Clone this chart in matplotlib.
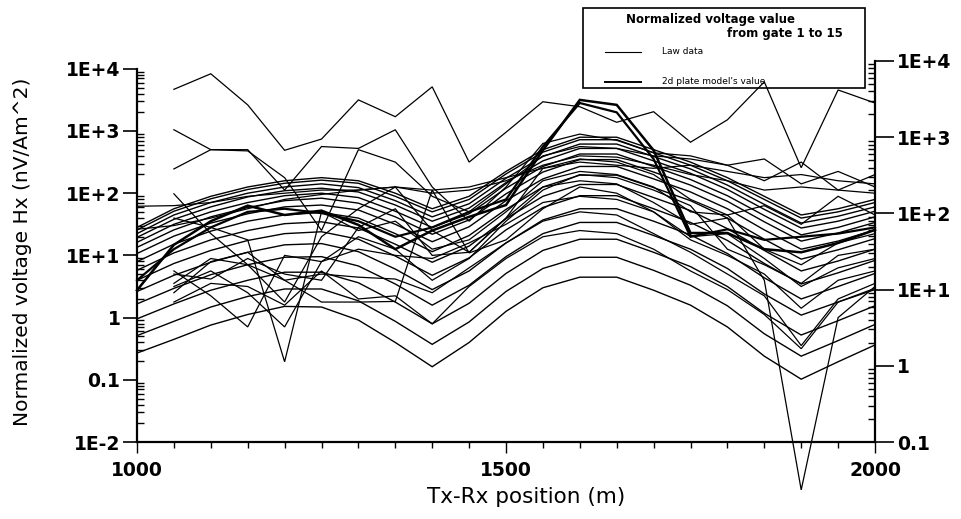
import numpy as np
import matplotlib
matplotlib.use("Agg")
import matplotlib.pyplot as plt
from matplotlib.lines import Line2D
from matplotlib.patches import Rectangle
from matplotlib.ticker import FixedLocator, FixedFormatter, LogLocator, NullFormatter

nan = float("nan")

# Tx-Rx positions (m)
positions = [1000, 1050, 1100, 1150, 1200, 1250, 1300, 1350, 1400, 1450, 1500,
             1550, 1600, 1650, 1700, 1750, 1800, 1850, 1900, 1950, 2000]

# 2d plate model values, log10(nV/Am^2), gate 1 (top) .. gate 15 (bottom)
model_g01 = [1.45, 1.75, 1.95, 2.10, 2.20, 2.25, 2.20, 2.00, 1.75, 1.95, 2.35, 2.70, 2.90, 2.90, 2.70, 2.50, 2.25, 1.95, 1.65, 1.75, 1.90]
model_g02 = [1.41, 1.71, 1.91, 2.06, 2.16, 2.21, 2.16, 1.95, 1.70, 1.90, 2.31, 2.66, 2.86, 2.86, 2.65, 2.45, 2.20, 1.90, 1.60, 1.70, 1.85]
model_g03 = [1.35, 1.65, 1.85, 2.00, 2.10, 2.15, 2.09, 1.88, 1.62, 1.83, 2.24, 2.59, 2.79, 2.79, 2.59, 2.39, 2.13, 1.82, 1.52, 1.63, 1.78]
model_g04 = [1.29, 1.58, 1.78, 1.94, 2.04, 2.08, 2.02, 1.81, 1.55, 1.76, 2.17, 2.52, 2.72, 2.72, 2.52, 2.32, 2.06, 1.74, 1.44, 1.55, 1.71]
model_g05 = [1.21, 1.50, 1.70, 1.85, 1.96, 2.00, 1.93, 1.71, 1.45, 1.67, 2.08, 2.43, 2.63, 2.63, 2.43, 2.22, 1.96, 1.64, 1.33, 1.45, 1.62]
model_g06 = [1.13, 1.41, 1.62, 1.77, 1.88, 1.92, 1.84, 1.62, 1.34, 1.57, 1.99, 2.34, 2.54, 2.54, 2.34, 2.13, 1.87, 1.54, 1.23, 1.36, 1.53]
model_g07 = [1.03, 1.31, 1.52, 1.67, 1.78, 1.81, 1.73, 1.50, 1.22, 1.46, 1.88, 2.23, 2.43, 2.43, 2.23, 2.02, 1.75, 1.41, 1.10, 1.23, 1.41]
model_g08 = [0.90, 1.18, 1.39, 1.55, 1.65, 1.69, 1.60, 1.35, 1.06, 1.32, 1.74, 2.10, 2.29, 2.29, 2.09, 1.88, 1.60, 1.26, 0.94, 1.09, 1.27]
model_g09 = [0.76, 1.04, 1.25, 1.40, 1.51, 1.54, 1.44, 1.18, 0.89, 1.15, 1.59, 1.95, 2.14, 2.14, 1.93, 1.72, 1.43, 1.08, 0.75, 0.91, 1.10]
model_g10 = [0.60, 0.87, 1.08, 1.24, 1.35, 1.38, 1.26, 0.99, 0.68, 0.96, 1.41, 1.77, 1.96, 1.96, 1.75, 1.53, 1.24, 0.87, 0.54, 0.72, 0.92]
model_g11 = [0.42, 0.68, 0.89, 1.05, 1.17, 1.19, 1.06, 0.78, 0.45, 0.75, 1.20, 1.57, 1.75, 1.75, 1.55, 1.33, 1.03, 0.64, 0.30, 0.50, 0.71]
model_g12 = [0.22, 0.47, 0.69, 0.85, 0.97, 0.98, 0.83, 0.54, 0.20, 0.52, 0.98, 1.35, 1.53, 1.53, 1.32, 1.10, 0.79, 0.38, 0.04, 0.25, 0.47]
model_g13 = [-0.02, 0.22, 0.44, 0.60, 0.73, 0.73, 0.56, 0.25, -0.10, 0.23, 0.71, 1.08, 1.26, 1.26, 1.05, 0.82, 0.50, 0.07, -0.28, -0.05, 0.19]
model_g14 = [-0.29, -0.06, 0.17, 0.34, 0.46, 0.46, 0.27, -0.06, -0.43, -0.07, 0.42, 0.79, 0.97, 0.97, 0.76, 0.52, 0.19, -0.26, -0.62, -0.37, -0.11]
model_g15 = [-0.57, -0.35, -0.12, 0.05, 0.18, 0.17, -0.04, -0.40, -0.79, -0.40, 0.10, 0.48, 0.65, 0.65, 0.44, 0.20, -0.15, -0.62, -0.99, -0.71, -0.44]

# Raw ("Law") data, log10(nV/Am^2)
raw_g01 = [nan, 3.67, 3.92, 3.42, 2.69, 2.87, 3.50, 3.23, 3.71, 2.50, 2.98, 3.47, 3.39, 3.14, 3.31, 2.82, 3.18, 3.79, 2.41, 3.66, 3.45]
raw_g02 = [0.44, 1.17, 1.55, 1.80, 1.65, 1.72, 1.49, 1.10, 1.40, 1.62, 1.81, 2.69, 3.50, 3.42, 2.69, 1.36, 1.36, 1.10, 1.05, 1.20, 1.41]
raw_g03 = [0.60, 1.10, 1.45, 1.70, 1.75, 1.68, 1.55, 1.30, 1.45, 1.70, 1.90, 2.75, 3.45, 3.30, 2.55, 1.30, 1.42, 1.25, 1.30, 1.35, 1.45]
raw_g04 = [nan, 3.02, 2.70, 2.70, 2.05, 2.75, 2.72, 3.02, 2.10, 1.55, 2.10, 2.80, 2.95, 2.85, 2.65, 2.60, 2.45, 2.20, 2.50, 2.05, 2.30]
raw_g05 = [nan, 2.39, 2.70, 2.68, 2.25, 1.40, 2.70, 2.50, 1.95, 1.70, 2.15, 2.60, 2.75, 2.72, 2.60, 2.55, 2.45, 2.55, 2.15, 2.35, 2.10]
raw_g06 = [nan, 1.99, 1.35, 0.85, 0.25, 1.30, 1.75, 2.10, 1.40, 1.05, 1.60, 2.40, 2.55, 2.50, 2.30, 1.90, 1.65, 1.80, 1.50, 1.95, 1.65]
raw_g07 = [1.79, 1.80, 1.85, 1.95, 2.00, 2.05, 2.05, 2.10, 2.05, 2.10, 2.25, 2.40, 2.50, 2.45, 2.40, 2.45, 2.35, 2.25, 2.30, 2.20, 2.15]
raw_g08 = [1.42, 1.48, 1.60, 1.75, 1.90, 1.98, 2.05, 2.10, 2.00, 2.05, 2.20, 2.45, 2.60, 2.58, 2.45, 2.30, 2.20, 2.05, 2.10, 2.05, 2.00]
raw_g09 = [nan, 0.50, 0.75, 0.40, -0.15, 0.90, 1.30, 1.10, 0.60, 0.95, 1.55, 2.05, 2.30, 2.25, 2.05, 1.80, 1.10, 0.85, 0.55, 1.00, 1.10]
raw_g10 = [nan, 0.70, 0.62, 0.95, 0.70, 0.60, 1.45, 1.75, 1.00, 1.05, 1.60, 2.10, 2.20, 2.15, 1.85, 1.50, 1.60, 0.60, -2.77, 0.00, 0.50]
raw_g11 = [nan, 0.40, 0.90, 1.05, 0.60, 0.25, 0.25, 0.26, 2.05, 1.04, 1.25, 1.75, 2.10, 2.00, 1.70, 1.30, 1.35, 0.95, 0.50, 0.80, 0.95]
raw_g12 = [nan, 0.75, 0.35, -0.15, 1.00, 0.90, 1.10, 1.00, 0.95, 1.20, 1.50, 1.85, 1.95, 1.90, 1.70, 1.25, 1.00, 0.70, 0.15, 0.60, 0.75]
raw_g13 = [nan, 1.60, 1.45, 1.25, -0.71, 1.70, 1.40, 1.55, 1.10, 1.25, 1.70, 2.20, 2.35, 2.30, 2.10, 1.70, 1.65, 1.10, 0.85, 1.20, 1.35]
raw_g14 = [nan, 0.55, 0.95, 0.85, 0.60, 0.70, 0.65, 0.62, 0.40, 0.80, 1.20, 1.55, 1.70, 1.65, 1.35, 1.05, 0.70, 0.35, -0.45, 0.30, 0.55]
raw_g15 = [nan, 0.25, 0.55, 0.50, 0.20, 0.75, 0.30, 0.35, -0.10, 0.50, 0.95, 1.30, 1.40, 1.35, 1.10, 0.75, 0.45, 0.05, -0.50, 0.25, 0.45]

left_ticks = [1e-2, 1e-1, 1e0, 1e1, 1e2, 1e3, 1e4]
left_labels = ["1E-2", "0.1", "1", "1E+1", "1E+2", "1E+3", "1E+4"]
right_ticks = [1e-1, 1e0, 1e1, 1e2, 1e3, 1e4]
right_labels = ["0.1", "1", "1E+1", "1E+2", "1E+3", "1E+4"]
x_ticks = [1000, 1500, 2000]
x_labels = ["1000", "1500", "2000"]

model_series = [model_g01, model_g02, model_g03, model_g04, model_g05, model_g06, model_g07,
                model_g08, model_g09, model_g10, model_g11, model_g12, model_g13, model_g14, model_g15]
raw_series = [raw_g01, raw_g02, raw_g03, raw_g04, raw_g05, raw_g06, raw_g07, raw_g08,
              raw_g09, raw_g10, raw_g11, raw_g12, raw_g13, raw_g14, raw_g15]
raw_widths = [0.9, 1.8, 1.6, 0.9, 0.9, 0.9, 0.9, 0.9, 0.9, 0.9, 0.9, 0.9, 0.9, 0.9, 0.9]

plt.rcParams['font.family'] = ['DejaVu Sans']

W, H = 961, 519
fig = plt.figure(figsize=(W / 100, H / 100), dpi=100)
L, R, T, B = 137, 875, 61, 442

# legend box drawn beneath the axes so data lines pass over it
fig.add_artist(Rectangle((583 / W, 1 - 88 / H), (865 - 583) / W, (88 - 8) / H,
                         transform=fig.transFigure, facecolor='white', edgecolor='black',
                         lw=1.2, zorder=-1))

ax = fig.add_axes([L / W, 1 - B / H, (R - L) / W, (B - T) / H])
ax.patch.set_visible(False)

x = np.array(positions, dtype=float)
for s in model_series:
    ax.plot(x, 10 ** np.array(s), color='black', lw=1.0, clip_on=False, solid_joinstyle='miter')
for s, w in zip(raw_series, raw_widths):
    ax.plot(x, 10 ** np.array(s), color='black', lw=w, clip_on=False, solid_joinstyle='miter')

ax.set_yscale('log')
ax.set_xlim(1000, 2000)
ax.set_ylim(1e-2, 10 ** (-2 + (B - T) / 62.2))
ax.spines['top'].set_visible(False)
ax.spines['right'].set_visible(False)
ax.spines['left'].set_bounds(1e-2, 1e4)
for sp in ax.spines.values():
    sp.set_linewidth(1.6)

ax.yaxis.set_major_locator(FixedLocator(left_ticks))
ax.yaxis.set_major_formatter(FixedFormatter(left_labels))
ax.yaxis.set_minor_locator(LogLocator(base=10, subs=np.arange(2, 10), numticks=20))
ax.yaxis.set_minor_formatter(NullFormatter())
ax.tick_params(axis='y', which='major', direction='out', length=10, width=1.2, pad=2,
               labelsize=13.5)
ax.tick_params(axis='y', which='minor', direction='in', length=5, width=1.0)

ax.xaxis.set_major_locator(FixedLocator(x_ticks))
ax.xaxis.set_major_formatter(FixedFormatter(x_labels))
ax.xaxis.set_minor_locator(FixedLocator(positions))
ax.tick_params(axis='x', which='major', direction='out', length=8, width=1.0, pad=6,
               labelsize=13.5)
ax.tick_params(axis='x', which='minor', direction='out', length=4, width=1.0)
for lab in ax.get_xticklabels() + ax.get_yticklabels():
    lab.set_fontweight('bold')

ax2 = ax.twinx()
ax2.patch.set_visible(False)
ax2.set_yscale('log')
ax2.set_ylim(1e-1, 1e4)
ax2.spines['top'].set_visible(False)
ax2.spines['left'].set_visible(False)
ax2.spines['bottom'].set_visible(False)
ax2.spines['right'].set_linewidth(1.6)
ax2.yaxis.set_major_locator(FixedLocator(right_ticks))
ax2.yaxis.set_major_formatter(FixedFormatter(right_labels))
ax2.yaxis.set_minor_locator(LogLocator(base=10, subs=np.arange(2, 10), numticks=20))
ax2.yaxis.set_minor_formatter(NullFormatter())
ax2.tick_params(axis='y', which='major', direction='out', length=14, width=1.2, pad=2,
                labelsize=13.5)
ax2.tick_params(axis='y', which='minor', direction='in', length=5, width=1.0)
for lab in ax2.get_yticklabels():
    lab.set_fontweight('bold')

fig.text(526 / W, 1 - 497 / H, "Tx-Rx position (m)", ha='center',
         va='center', fontsize=15.5)
fig.text(23 / W, 1 - 252 / H, "Normalized voltage Hx (nV/Am^2)", rotation=90,
         ha='center', va='center', fontsize=14.5)

# legend contents
fig.text(710 / W, 1 - 19 / H, "Normalized voltage value", ha='center', va='center',
         fontsize=8.5, fontweight='bold')
fig.text(843 / W, 1 - 33 / H, "from gate 1 to 15", ha='right', va='center',
         fontsize=8.5, fontweight='bold')
fig.add_artist(Line2D([605 / W, 641 / W], [1 - 52 / H, 1 - 52 / H], transform=fig.transFigure,
                      color='black', lw=0.8))
fig.add_artist(Line2D([605 / W, 641 / W], [1 - 82 / H, 1 - 82 / H], transform=fig.transFigure,
                      color='black', lw=1.4))
fig.text(662 / W, 1 - 52 / H, "Law data", ha='left', va='center', fontsize=6.5)
fig.text(662 / W, 1 - 82 / H, "2d plate model's value", ha='left', va='center', fontsize=6.5)

fig.savefig("out.png", dpi=100)
